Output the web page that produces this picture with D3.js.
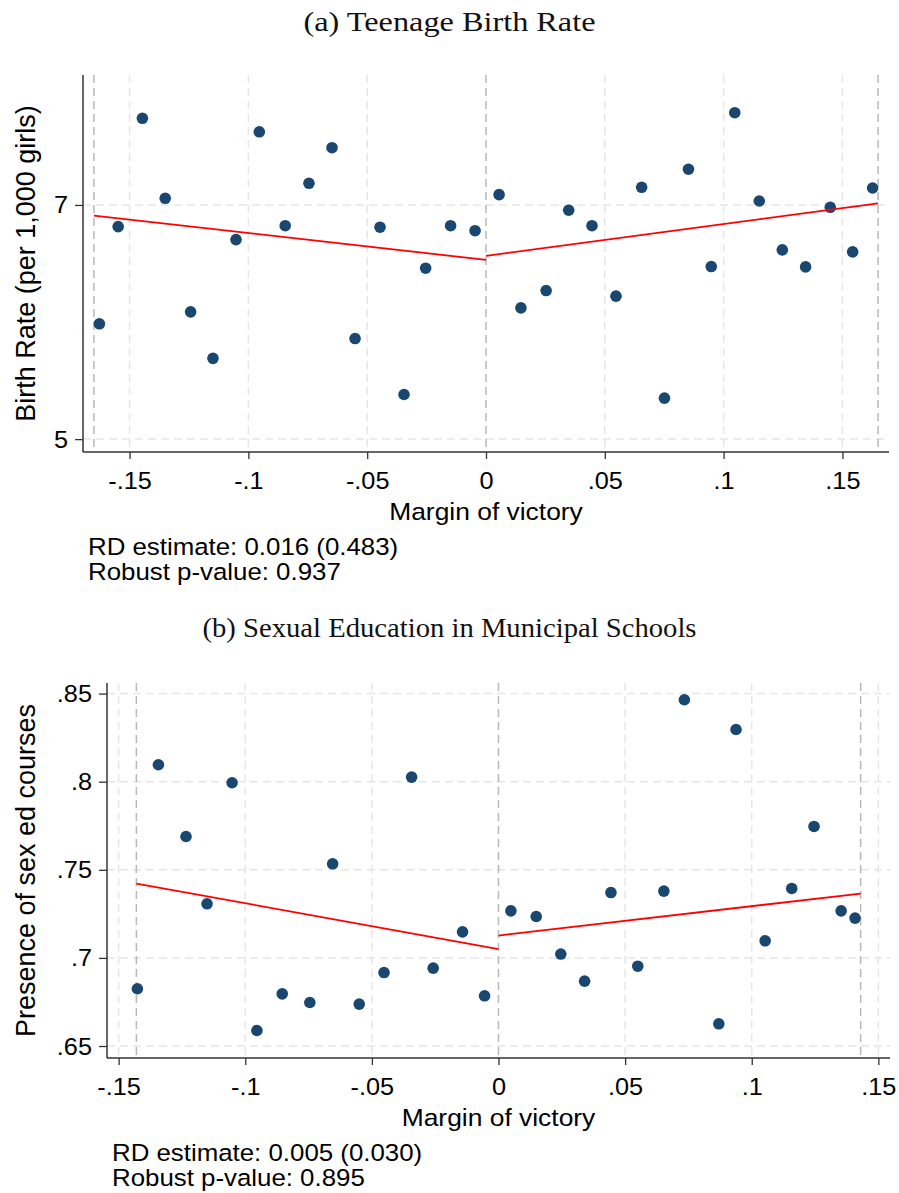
<!DOCTYPE html>
<html>
<head>
<meta charset="utf-8">
<script src="https://cdn.jsdelivr.net/npm/d3@7"></script>
<style>
  body { margin: 0; background: #fff; }
  svg { display: block; }
</style>
</head>
<body>
<div id="viz"></div>
<script>
// Datos del panel (a): tasa de natalidad adolescente
const xTicksA = [-0.15, -0.1, -0.05, 0, 0.05, 0.1, 0.15];
const xTickLabelsA = ["-.15", "-.1", "-.05", "0", ".05", ".1", ".15"];
const yTicksA = [5, 7];
const yTickLabelsA = ["5", "7"];
const binXA = [-0.1627, -0.1548, -0.1446, -0.1350, -0.1243, -0.1149, -0.1052, -0.0954, -0.0845, -0.0745,
  -0.0648, -0.0551, -0.0446, -0.0345, -0.0254, -0.0149, -0.0046, 0.0055, 0.0147, 0.0253,
  0.0348, 0.0446, 0.0547, 0.0655, 0.0751, 0.0852, 0.0948, 0.1047, 0.1150, 0.1247,
  0.1345, 0.1449, 0.1543, 0.1627];
const binYA = [5.985, 6.815, 7.740, 7.057, 6.087, 5.690, 6.704, 7.625, 6.823, 7.185,
  7.489, 5.859, 6.810, 5.381, 6.460, 6.823, 6.780, 7.088, 6.121, 6.269,
  6.955, 6.823, 6.221, 7.151, 5.350, 7.305, 6.474, 7.788, 7.034, 6.616,
  6.471, 6.980, 6.599, 7.145];
const fitLeftA = [[-0.165, 6.909], [0, 6.531]];
const fitRightA = [[0, 6.565], [0.165, 7.014]];
const bandwidthA = 0.165;

// Datos del panel (b): educación sexual
const xTicksB = [-0.15, -0.1, -0.05, 0, 0.05, 0.1, 0.15];
const xTickLabelsB = ["-.15", "-.1", "-.05", "0", ".05", ".1", ".15"];
const yTicksB = [0.65, 0.7, 0.75, 0.8, 0.85];
const yTickLabelsB = [".65", ".7", ".75", ".8", ".85"];
const binXB = [-0.1426, -0.1343, -0.1234, -0.1151, -0.1052, -0.0954, -0.0854, -0.0745, -0.0655, -0.0550,
  -0.0452, -0.0343, -0.0258, -0.0142, -0.0055, 0.0049, 0.0149, 0.0246, 0.0340, 0.0444,
  0.0550, 0.0653, 0.0734, 0.0870, 0.0938, 0.1053, 0.1158, 0.1246, 0.1353, 0.1408];
const binYB = [0.6825, 0.8096, 0.7689, 0.7307, 0.7994, 0.6588, 0.6796, 0.6747, 0.7534, 0.6738,
  0.6917, 0.8026, 0.6942, 0.7148, 0.6785, 0.7267, 0.7235, 0.7022, 0.6868, 0.7371,
  0.6953, 0.7379, 0.8465, 0.6626, 0.8296, 0.7097, 0.7394, 0.7746, 0.7267, 0.7226];
const fitLeftB = [[-0.143, 0.7422], [0, 0.7050]];
const fitRightB = [[0, 0.7127], [0.143, 0.7365]];
const bandwidthB = 0.143;

const width = 899;
const height = 1193;
const colorPunto = "#1a476f";
const fuenteSans = "'Liberation Sans', Arial, Helvetica, sans-serif";
const fuenteSerif = "'Liberation Serif', 'Times New Roman', serif";

const svg = d3.select("#viz").append("svg")
  .attr("width", width)
  .attr("height", height);

function dibujarPanel(cfg) {
  const x = d3.scaleLinear().domain(cfg.xDomain).range([cfg.left, cfg.right]);
  const y = d3.scaleLinear().domain(cfg.yDomain).range([cfg.bottom, cfg.top]);
  const g = svg.append("g");

  // título del panel (Computer Modern no existe aquí, se estira una serif)
  g.append("text")
    .attr("x", width / 2).attr("y", cfg.titleY)
    .attr("text-anchor", "middle")
    .attr("font-family", fuenteSerif)
    .attr("font-size", 27)
    .attr("textLength", cfg.titleWidth)
    .attr("lengthAdjust", "spacingAndGlyphs")
    .attr("fill", "#111")
    .text(cfg.title);

  // rejilla
  g.selectAll(".gy").data(cfg.yTicks).enter().append("line")
    .attr("x1", cfg.left).attr("x2", cfg.right)
    .attr("y1", d => y(d)).attr("y2", d => y(d))
    .attr("stroke", "#e6e6e6").attr("stroke-width", 1.5)
    .attr("stroke-dasharray", "8,5");
  g.selectAll(".gx").data(cfg.xTicks.filter(d => d !== 0)).enter().append("line")
    .attr("x1", d => x(d)).attr("x2", d => x(d))
    .attr("y1", cfg.top).attr("y2", cfg.bottom)
    .attr("stroke", "#e6e6e6").attr("stroke-width", 1.5)
    .attr("stroke-dasharray", "8,5");

  // líneas de corte y ancho de banda
  g.selectAll(".corte").data([-cfg.bandwidth, 0, cfg.bandwidth]).enter().append("line")
    .attr("x1", d => x(d)).attr("x2", d => x(d))
    .attr("y1", cfg.top).attr("y2", cfg.bottom)
    .attr("stroke", "#b8b8b8").attr("stroke-width", 1.5)
    .attr("stroke-dasharray", "8,5");

  // puntos
  const puntos = cfg.binX.map((v, i) => ({ x: v, y: cfg.binY[i] }));
  g.selectAll(".punto").data(puntos).enter().append("circle")
    .attr("cx", d => x(d.x))
    .attr("cy", d => y(d.y))
    .attr("r", 5.8)
    .attr("fill", colorPunto);

  // ajustes lineales
  const linea = d3.line().x(d => x(d[0])).y(d => y(d[1]));
  [cfg.fitLeft, cfg.fitRight].forEach(seg => {
    g.append("path")
      .attr("d", linea(seg))
      .attr("fill", "none")
      .attr("stroke", "#ff0000")
      .attr("stroke-width", 1.8);
  });

  // ejes
  const ejeX = d3.axisBottom(x).tickValues(cfg.xTicks).tickSize(7)
    .tickFormat((d, i) => cfg.xTickLabels[i]);
  const gx = g.append("g").attr("transform", `translate(0,${cfg.bottom})`).call(ejeX);
  gx.select(".domain").attr("d", `M${cfg.left},0H${cfg.right}`).attr("stroke", "#333").attr("stroke-width", 1.5);
  gx.selectAll(".tick line").attr("stroke", "#333").attr("stroke-width", 1.3);
  gx.selectAll(".tick text")
    .attr("font-family", fuenteSans).attr("font-size", 23).attr("fill", "#000")
    .attr("y", 0).attr("dy", 0)
    .attr("transform", "translate(0,37) scale(1.1,1)");

  const ejeY = d3.axisLeft(y).tickValues(cfg.yTicks).tickSize(8)
    .tickFormat((d, i) => cfg.yTickLabels[i]);
  const gy = g.append("g").attr("transform", `translate(${cfg.left},0)`).call(ejeY);
  gy.select(".domain").attr("d", `M0,${cfg.top}V${cfg.bottom}`).attr("stroke", "#333").attr("stroke-width", 1.5);
  gy.selectAll(".tick line").attr("stroke", "#333").attr("stroke-width", 1.3);
  gy.selectAll(".tick text")
    .attr("font-family", fuenteSans).attr("font-size", 23).attr("fill", "#000")
    .attr("x", 0).attr("dy", 0)
    .attr("transform", "translate(-15,8) scale(1.1,1)");

  // títulos de ejes
  g.append("text")
    .attr("transform", `translate(${(cfg.left + cfg.right) / 2},${cfg.bottom + 68}) scale(1.1,1)`)
    .attr("text-anchor", "middle")
    .attr("font-family", fuenteSans).attr("font-size", 24)
    .text("Margin of victory");
  g.append("text")
    .attr("transform", `translate(35,${(cfg.top + cfg.bottom) / 2}) rotate(-90)`)
    .attr("text-anchor", "middle")
    .attr("font-family", fuenteSans).attr("font-size", 27)
    .text(cfg.yTitle);

  // anotaciones
  g.append("text")
    .attr("transform", `translate(${cfg.left + 5},${cfg.bottom + 103}) scale(1.1,1)`)
    .attr("font-family", fuenteSans).attr("font-size", 23.5)
    .text(cfg.nota1);
  g.append("text")
    .attr("transform", `translate(${cfg.left + 5},${cfg.bottom + 128}) scale(1.1,1)`)
    .attr("font-family", fuenteSans).attr("font-size", 23.5)
    .text(cfg.nota2);
}

dibujarPanel({
  title: "(a) Teenage Birth Rate", titleY: 31, titleWidth: 292,
  yTitle: "Birth Rate (per 1,000 girls)",
  left: 83, right: 889, top: 75, bottom: 452,
  xDomain: [-0.1696, 0.1696], yDomain: [4.89, 8.11],
  xTicks: xTicksA, xTickLabels: xTickLabelsA,
  yTicks: yTicksA, yTickLabels: yTickLabelsA,
  binX: binXA, binY: binYA,
  fitLeft: fitLeftA, fitRight: fitRightA, bandwidth: bandwidthA,
  nota1: "RD estimate: 0.016 (0.483)", nota2: "Robust p-value: 0.937"
});

dibujarPanel({
  title: "(b) Sexual Education in Municipal Schools", titleY: 637, titleWidth: 494,
  yTitle: "Presence of sex ed courses",
  left: 107, right: 890, top: 683, bottom: 1058,
  xDomain: [-0.1546, 0.1546], yDomain: [0.6432, 0.856],
  xTicks: xTicksB, xTickLabels: xTickLabelsB,
  yTicks: yTicksB, yTickLabels: yTickLabelsB,
  binX: binXB, binY: binYB,
  fitLeft: fitLeftB, fitRight: fitRightB, bandwidth: bandwidthB,
  nota1: "RD estimate: 0.005 (0.030)", nota2: "Robust p-value: 0.895"
});
</script>
</body>
</html>
